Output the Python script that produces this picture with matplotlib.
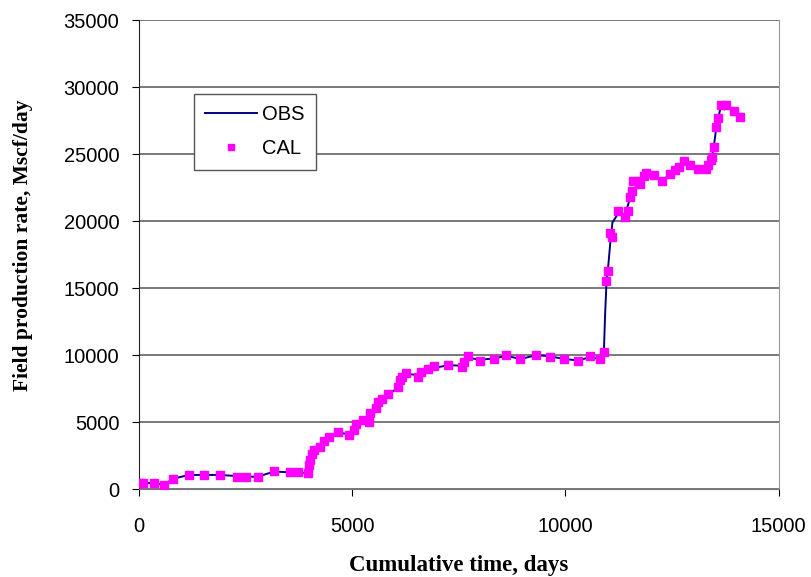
import matplotlib
matplotlib.use("Agg")
import matplotlib.pyplot as plt

# calculated (simulated) field rate
cal_days = [0, 100, 350, 590, 790, 1165, 1520, 1900, 2290, 2520, 2790, 3165, 3550, 3740,
            3977, 3993, 4008, 4055, 4100, 4240, 4336, 4446, 4680, 4915, 5040, 5100, 5243,
            5384, 5420, 5555, 5602, 5710, 5852, 6086, 6133, 6180, 6274, 6555, 6618, 6790,
            6915, 7259, 7571, 7618, 7727, 7993, 8337, 8618, 8946, 9321, 9649, 9977, 10305,
            10586, 10805, 10899, 10962, 11008, 11055, 11102, 11243, 11399, 11477, 11524,
            11571, 11580, 11711, 11758, 11837, 11899, 12087, 12274, 12462, 12571, 12665,
            12774, 12930, 13118, 13290, 13352, 13415, 13446, 13477, 13524, 13571, 13640,
            13758, 13946, 14086]
cal_rate = [470, 470, 470, 280, 770, 1070, 1070, 1070, 920, 920, 920, 1370, 1250, 1250,
            1220, 1800, 2160, 2620, 2900, 3160, 3620, 3900, 4220, 4050, 4400, 4830, 5120,
            4980, 5690, 6020, 6460, 6740, 7060, 7650, 8130, 8380, 8680, 8380, 8730, 8980,
            9180, 9280, 9130, 9480, 9930, 9580, 9730, 10030, 9680, 10030, 9880, 9700, 9580,
            9900, 9730, 10220, 15540, 16290, 19120, 18830, 20770, 20320, 20770, 21810,
            22260, 23000, 23000, 22750, 23350, 23600, 23450, 23000, 23500, 23850, 24050,
            24500, 24200, 23900, 23900, 24200, 24550, 24800, 25550, 27050, 27700, 28650,
            28700, 28250, 27800]

# observed field rate
obs_days = [0, 350, 590, 790, 1165, 1900, 2520, 2790, 3165, 3550, 3940, 3990, 4055, 4240,
            4446, 4680, 4915, 5100, 5384, 5555, 5710, 5852, 6086, 6274, 6555, 6790, 7259,
            7571, 7727, 7993, 8337, 8618, 8946, 9321, 9649, 9977, 10305, 10586, 10805,
            10899, 10930, 10962, 11008, 11055, 11102, 11243, 11399, 11524, 11711, 11899,
            12087, 12274, 12462, 12665, 12774, 12930, 13118, 13290, 13415, 13477, 13540,
            13640, 13758, 13946, 14086]
obs_rate = [450, 450, 300, 750, 1050, 1050, 920, 920, 1300, 1250, 1200, 1900, 2600, 3150,
            3850, 4200, 4100, 4900, 5200, 5950, 6600, 7050, 7600, 8600, 8500, 8950, 9250,
            9200, 9800, 9650, 9750, 9950, 9700, 10000, 9900, 9700, 9600, 9850, 9700, 10000,
            13000, 15400, 16800, 18500, 19900, 20600, 20500, 21800, 22800, 23500, 23400,
            23050, 23500, 24000, 24400, 24200, 23900, 23900, 24500, 25500, 27100, 28500,
            28650, 28250, 27800]

fig = plt.figure(figsize=(8.12, 5.77), dpi=100)
ax = fig.add_axes([0.171, 0.1525, 0.788, 0.8125])

ax.plot(obs_days, obs_rate, color="#000080", lw=1.4, label="OBS", zorder=3)
ax.plot(cal_days, cal_rate, ls="none", marker="s", ms=5.8, color="#ff00ff",
        label="CAL", zorder=4)

ax.set_xlim(0, 15000)
ax.set_ylim(0, 35000)
ax.set_xticks([0, 5000, 10000, 15000])
ax.set_yticks(range(0, 35001, 5000))
ax.yaxis.grid(True, color="#555555", lw=1.1)
ax.set_axisbelow(True)

ax.spines["top"].set_visible(False)
ax.spines["right"].set_color("#999999")
ax.spines["bottom"].set_color("#777777")
ax.spines["left"].set_color("#222222")

ax.tick_params(axis="x", length=5, pad=15, labelsize=14.5)
ax.tick_params(axis="y", length=5, pad=9, labelsize=14.5)
for lab in ax.get_xticklabels() + ax.get_yticklabels():
    lab.set_family("Liberation Sans")

ax.set_xlabel("Cumulative time, days", family="Liberation Serif", weight="bold",
              fontsize=16.5, labelpad=14)
ax.set_ylabel("Field production rate, Mscf/day", family="Liberation Serif",
              weight="bold", fontsize=15.5)
ax.yaxis.set_label_coords(-0.166, 0.52)

leg = ax.legend(loc="upper left", bbox_to_anchor=(0.086, 0.842), fancybox=False,
                framealpha=1, edgecolor="#555555", prop={"family": "Liberation Sans", "size": 14.5},
                handlelength=2.6, borderpad=0.55, labelspacing=0.75, handletextpad=0.25,
                markerscale=0.75, borderaxespad=0)
leg.get_frame().set_linewidth(1.0)

fig.savefig("out.png", dpi=100)
